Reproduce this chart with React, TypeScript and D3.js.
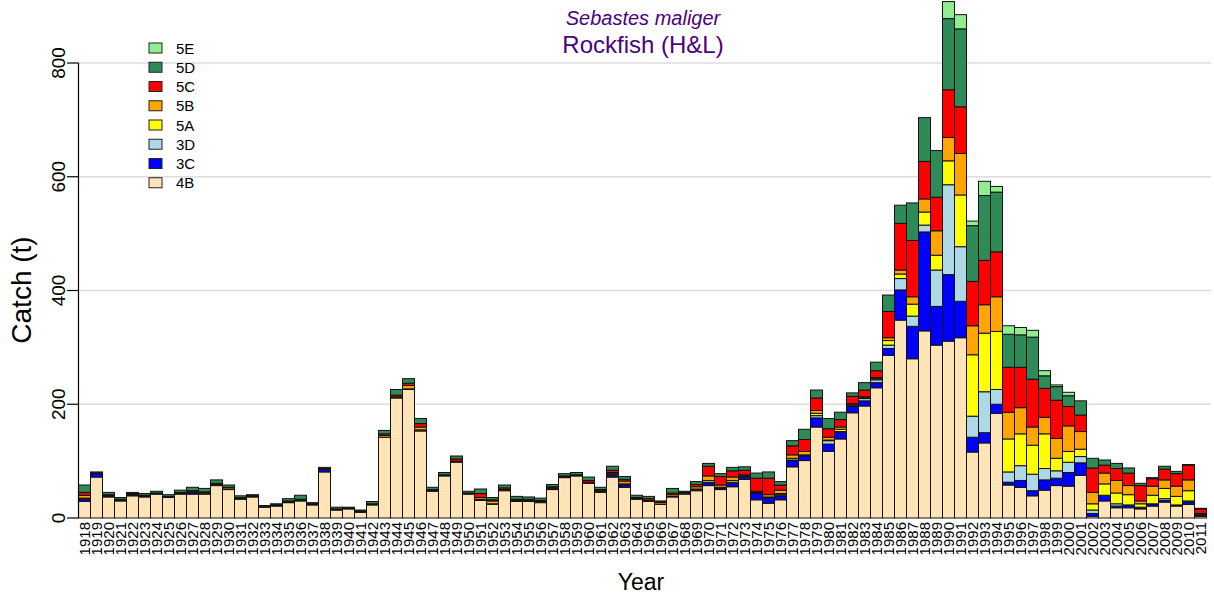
import React from "react";
import { scaleBand, scaleLinear, stack } from "d3";

const years = [
  1918, 1919, 1920, 1921, 1922, 1923, 1924, 1925, 1926, 1927, 1928, 1929, 1930, 1931, 1932, 1933,
  1934, 1935, 1936, 1937, 1938, 1939, 1940, 1941, 1942, 1943, 1944, 1945, 1946, 1947, 1948, 1949,
  1950, 1951, 1952, 1953, 1954, 1955, 1956, 1957, 1958, 1959, 1960, 1961, 1962, 1963, 1964, 1965,
  1966, 1967, 1968, 1969, 1970, 1971, 1972, 1973, 1974, 1975, 1976, 1977, 1978, 1979, 1980, 1981,
  1982, 1983, 1984, 1985, 1986, 1987, 1988, 1989, 1990, 1991, 1992, 1993, 1994, 1995, 1996, 1997,
  1998, 1999, 2000, 2001, 2002, 2003, 2004, 2005, 2006, 2007, 2008, 2009, 2010, 2011
];

// catch (t) by area
const c4B = [
  29, 72, 37, 30, 39, 37, 42, 36, 42, 42, 42, 57, 50, 33, 37, 19,
  21, 27, 30, 23, 81, 14, 16, 10, 23, 142, 211, 226, 153, 47, 74, 98,
  42, 31, 24, 48, 29, 29, 27, 50, 71, 74, 61, 45, 72, 54, 33, 29,
  24, 37, 42, 48, 57, 50, 55, 68, 32, 26, 32, 90, 101, 160, 117, 139,
  185, 197, 229, 286, 348, 280, 329, 304, 311, 317, 116, 132, 184, 58, 54, 39,
  49, 57, 56, 75, 3, 30, 18, 18, 16, 21, 28, 21, 24, 3
];
const c3C = [
  4, 6, 1, 0, 2, 1, 1, 0, 0, 3, 0, 0, 0, 0, 0, 0,
  0, 0, 0, 0, 5, 0, 0, 0, 0, 0, 0, 0, 0, 0, 0, 0,
  0, 1, 0, 0, 0, 0, 0, 0, 0, 0, 0, 0, 3, 4, 0, 0,
  0, 0, 0, 1, 5, 2, 6, 4, 11, 9, 7, 11, 8, 16, 13, 12,
  11, 9, 9, 12, 53, 57, 174, 68, 117, 64, 26, 18, 16, 5, 12, 9,
  18, 13, 24, 22, 5, 10, 3, 5, 2, 4, 3, 2, 4, 2
];
const c3D = [
  1, 0, 0, 0, 0, 0, 0, 0, 0, 0, 0, 0, 0, 0, 0, 0,
  0, 0, 0, 0, 0, 0, 0, 0, 0, 0, 0, 0, 0, 0, 0, 0,
  0, 0, 0, 0, 0, 0, 0, 1, 0, 0, 0, 2, 2, 1, 0, 0,
  0, 0, 0, 0, 1, 1, 2, 1, 1, 1, 2, 1, 1, 4, 6, 1,
  1, 4, 5, 6, 20, 18, 12, 64, 158, 96, 37, 72, 26, 18, 26, 29,
  20, 13, 18, 11, 6, 0, 4, 0, 1, 0, 3, 0, 2, 0
];
const c5A = [
  1, 0, 0, 0, 0, 0, 0, 0, 0, 0, 0, 0, 0, 0, 0, 0,
  0, 0, 0, 0, 0, 0, 0, 0, 0, 0, 0, 1, 2, 0, 0, 0,
  0, 1, 1, 0, 0, 0, 0, 0, 0, 0, 0, 0, 1, 1, 0, 0,
  0, 1, 0, 2, 3, 1, 3, 1, 1, 1, 2, 3, 1, 4, 1, 4,
  2, 1, 2, 8, 8, 21, 23, 26, 42, 91, 108, 103, 102, 58, 56, 51,
  61, 22, 19, 13, 11, 20, 19, 18, 6, 15, 18, 15, 18, 1
];
const c5B = [
  5, 0, 1, 1, 1, 1, 0, 1, 1, 1, 2, 2, 3, 1, 1, 0,
  1, 1, 1, 1, 0, 1, 0, 1, 1, 3, 2, 6, 5, 1, 1, 2,
  1, 3, 5, 2, 2, 2, 2, 2, 1, 1, 2, 1, 2, 5, 1, 2,
  3, 3, 2, 4, 8, 4, 6, 2, 2, 4, 6, 6, 6, 5, 5, 4,
  2, 2, 2, 5, 7, 13, 23, 43, 41, 73, 51, 50, 61, 47, 46, 32,
  29, 35, 45, 31, 20, 19, 22, 16, 5, 16, 15, 18, 19, 2
];
const c5C = [
  5, 1, 2, 2, 1, 1, 1, 1, 2, 2, 2, 2, 1, 2, 1, 1,
  1, 2, 2, 1, 1, 1, 1, 1, 1, 3, 3, 4, 6, 2, 1, 4,
  1, 7, 2, 3, 2, 2, 2, 2, 2, 1, 3, 2, 4, 3, 2, 3,
  1, 3, 1, 4, 17, 15, 11, 8, 23, 29, 9, 16, 21, 22, 15, 13,
  13, 12, 12, 46, 82, 99, 66, 59, 84, 82, 78, 78, 79, 79, 71, 84,
  51, 67, 34, 29, 43, 14, 21, 22, 27, 13, 19, 22, 26, 8
];
const c5D = [
  13, 2, 4, 3, 2, 3, 3, 3, 4, 6, 6, 6, 4, 3, 2, 2,
  2, 4, 7, 2, 2, 3, 2, 2, 4, 6, 10, 8, 9, 4, 4, 5,
  3, 8, 4, 5, 5, 4, 4, 4, 4, 4, 6, 4, 7, 5, 4, 4,
  2, 8, 2, 5, 5, 5, 6, 6, 9, 11, 6, 9, 18, 14, 18, 13,
  6, 13, 15, 29, 32, 66, 77, 82, 125, 137, 98, 114, 105, 58, 57, 74,
  22, 24, 19, 25, 17, 9, 9, 9, 4, 2, 5, 4, 1, 1
];
const c5E = [
  0, 0, 0, 0, 0, 0, 0, 0, 0, 0, 0, 0, 0, 0, 0, 0,
  0, 0, 0, 0, 0, 0, 0, 0, 0, 0, 0, 0, 0, 0, 0, 0,
  0, 0, 0, 0, 0, 0, 0, 0, 0, 0, 0, 0, 0, 0, 0, 0,
  0, 0, 0, 0, 0, 0, 0, 0, 0, 0, 0, 0, 0, 0, 0, 0,
  0, 0, 0, 0, 0, 0, 0, 0, 30, 25, 8, 25, 10, 15, 13, 12,
  9, 3, 6, 0, 0, 0, 0, 0, 0, 0, 0, 0, 0, 0
];

const areas = ["4B", "3C", "3D", "5A", "5B", "5C", "5D", "5E"];
const areaValues = [c4B, c3C, c3D, c5A, c5B, c5C, c5D, c5E];
const areaColors = ["#FFE4B5", "#0000FF", "#ADD8E6", "#FFFF00", "#FFA500", "#FF0000", "#2E8B57", "#90EE90"];
const yTicks = [0, 200, 400, 600, 800];

const FONT = "'Liberation Sans', Arial, Helvetica, sans-serif";

function App() {
  const width = 1214;
  const height = 597;
  const left = 78.5;

  const rows = years.map((year, i) => {
    const row = { year };
    areas.forEach((a, k) => { row[a] = areaValues[k][i]; });
    return row;
  });
  const series = stack().keys(areas)(rows);

  const x = scaleBand().domain(years).range([left, 1206.5]).padding(0);
  const y = scaleLinear().domain([0, 800]).range([518, 63]);

  return (
    <svg width={width} height={height} style={{ position: "absolute", left: 0, top: 0 }} fontFamily={FONT}>
      <rect width={width} height={height} fill="white" />

      {/* grid */}
      {yTicks.slice(1).map(t => (
        <line key={`g${t}`} x1={left} x2={1211} y1={y(t)} y2={y(t)} stroke="#DCDCDC" strokeWidth={1.5} />
      ))}

      {/* stacked bars */}
      {series.map((s, k) => (
        <g key={areas[k]} fill={areaColors[k]}>
          {s.map((d, i) => d[1] - d[0] > 0 && (
            <rect
              key={`${areas[k]}-${years[i]}`}
              x={x(years[i])}
              y={y(d[1])}
              width={x.bandwidth()}
              height={y(d[0]) - y(d[1])}
              stroke="#111"
              strokeWidth={1}
            />
          ))}
        </g>
      ))}

      {/* y axis */}
      <line x1={left} x2={left} y1={y(0)} y2={y(800)} stroke="black" strokeWidth={1.2} />
      {yTicks.map(t => (
        <g key={`t${t}`}>
          <line x1={67} x2={left} y1={y(t)} y2={y(t)} stroke="black" strokeWidth={1.2} />
          <text x={65} y={y(t)} transform={`rotate(-90, 65, ${y(t)})`} textAnchor="middle" fontSize={19}>{t}</text>
        </g>
      ))}
      <text x={31} y={290} transform="rotate(-90, 31, 290)" textAnchor="middle" fontSize={28}>Catch (t)</text>

      {/* x labels */}
      {years.map(yr => {
        const cx = x(yr) + x.bandwidth() / 2 + 5.2;
        return (
          <text key={`l${yr}`} x={cx} y={522} transform={`rotate(-90, ${cx}, 522)`} textAnchor="end" fontSize={15}>{yr}</text>
        );
      })}
      <text x={641} y={590} textAnchor="middle" fontSize={23}>Year</text>

      {/* title */}
      <text x={643} y={25} textAnchor="middle" fontSize={20} fontStyle="italic" fill="#4B0082">Sebastes maliger</text>
      <text x={643} y={53} textAnchor="middle" fontSize={24} fill="#4B0082">Rockfish (H&amp;L)</text>

      {/* legend */}
      {areas.slice().reverse().map((a, j) => {
        const k = areas.length - 1 - j;
        const ly = 48 + j * 19.25;
        return (
          <g key={`lg${a}`}>
            <rect x={149} y={ly - 5} width={13} height={10} fill={areaColors[k]} stroke="#222" strokeWidth={1} />
            <text x={176} y={ly} dominantBaseline="central" fontSize={15}>{a}</text>
          </g>
        );
      })}
    </svg>
  );
}

export default App;
